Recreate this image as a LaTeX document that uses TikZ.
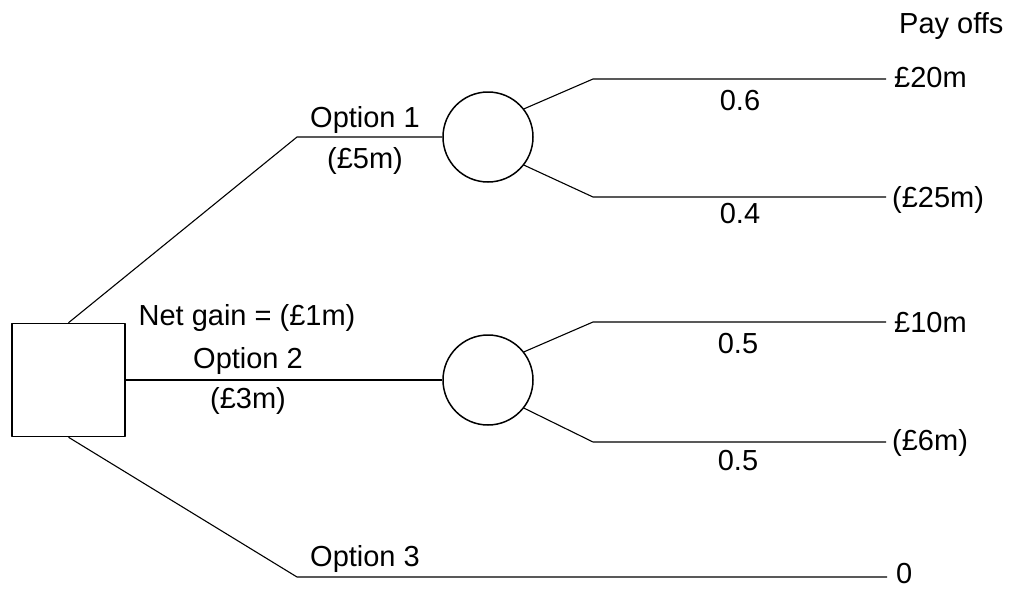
\documentclass[tikz,border=0pt]{standalone}
\usepackage{fontspec}
\setmainfont{Liberation Sans}
\usetikzlibrary{positioning}
\begin{document}
\begin{tikzpicture}[x=1pt,y=-1pt,line join=bevel,
  decision/.style={draw,rectangle,minimum size=113pt,line width=1.5pt,inner sep=0pt},
  chance/.style={draw,circle,minimum size=90pt,line width=1.5pt,inner sep=0pt},
  branch/.style={line width=1.1pt},
  lbl/.style={font=\fontsize{29}{33}\selectfont,inner sep=0pt,anchor=base},
  pay/.style={lbl,anchor=base west}]
\useasboundingbox (0,0) rectangle (1010,589);
%%
\node (D) at (68.5,380) [decision] {};
  \node (C1) at (488,137) [chance] {};
  \node (C2) at (488,380) [chance] {};
  \coordinate (B1) at (297,137);
  \coordinate (B3) at (297,577);
  \coordinate (K1) at (593,79);
  \coordinate (K2) at (593,197);
  \coordinate (K3) at (593,322);
  \coordinate (K4) at (593,442);
  \node (P1) at (894,87) [pay] {£20m};
  \node (P2) at (892,207) [pay] {(£25m)};
  \node (P3) at (894,332) [pay] {£10m};
  \node (P4) at (892,450) [pay] {(£6m)};
  \node (P5) at (896,583) [pay] {0};
  \node (PO) at (899,33) [pay] {Pay offs};
%
  \draw [branch] (D.north) -- (B1) -- (C1.west);
  \draw [branch] (D.east) -- (C2.west);
  \draw [branch,shorten >=9pt] (D.south) -- (B3) -- (P5.west |- B3);
  \draw [branch,shorten >=8pt] (C1.38) -- (K1) -- (P1.west |- K1);
  \draw [branch,shorten >=6pt] (C1.-38) -- (K2) -- (P2.west |- K2);
  \draw [branch,shorten >=8pt] (C2.38) -- (K3) -- (P3.west |- K3);
  \draw [branch,shorten >=6pt] (C2.-38) -- (K4) -- (P4.west |- K4);
%
  \node (L1) at (365,127) [lbl] {Option 1};
  \node (L1c) at (365,168) [lbl] {(£5m)};
  \node (NG) at (247,325) [lbl] {Net gain = (£1m)};
  \node (L2) at (248,368) [lbl] {Option 2};
  \node (L2c) at (248,408) [lbl] {(£3m)};
  \node (L3) at (365,566) [lbl] {Option 3};
  \node (Q1) at (740,110) [lbl] {0.6};
  \node (Q2) at (740,223) [lbl] {0.4};
  \node (Q3) at (738,353) [lbl] {0.5};
  \node (Q4) at (738,470) [lbl] {0.5};
%
\end{tikzpicture}
\end{document}
